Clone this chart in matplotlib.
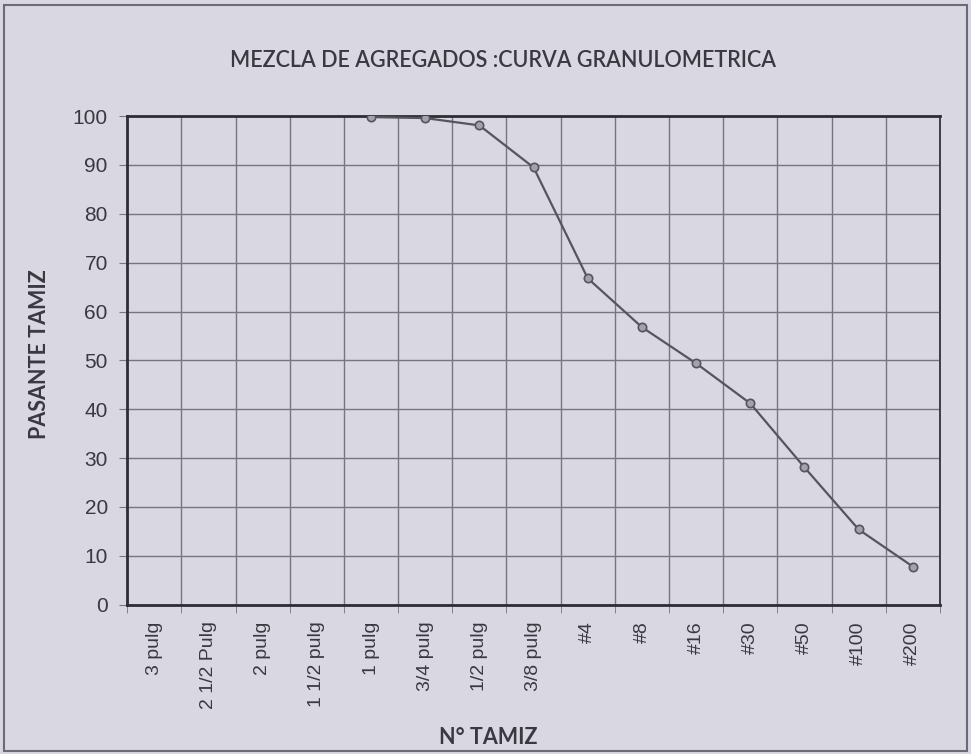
import matplotlib

matplotlib.use("Agg")
import matplotlib.pyplot as plt
from matplotlib.patches import Rectangle
import numpy as np

# sieve sizes and passing percentages
tamices = [
    "3 pulg", "2 1/2 Pulg", "2 pulg", "1 1/2 pulg", "1 pulg", "3/4 pulg",
    "1/2 pulg", "3/8 pulg", "#4", "#8", "#16", "#30", "#50", "#100", "#200",
]
pasante = [np.nan, np.nan, np.nan, np.nan, 99.8, 99.6, 98.1, 89.5,
           66.8, 56.8, 49.4, 41.2, 28.1, 15.4, 7.8]
y_ticks = list(range(0, 101, 10))

bg = "#d9d7e1"
ink = "#3a3840"
narrow = ["Liberation Sans Narrow", "Liberation Sans", "DejaVu Sans"]
bold = ["Lato", "DejaVu Sans"]

fig = plt.figure(figsize=(9.71, 7.54), dpi=100, facecolor=bg)
ax = fig.add_axes([0.131, 0.198, 0.837, 0.648])
ax.set_facecolor(bg)

x = np.arange(len(tamices))
ax.plot(x, pasante, color="#56545c", lw=1.6, marker="o", ms=6,
        mfc="#a3a1ab", mec="#56545c", mew=1.2, zorder=3)

ax.set_xlim(-0.5, len(tamices) - 0.5)
ax.set_ylim(0, 100)
ax.set_xticks(x)
ax.set_xticklabels(tamices, rotation=90, family=narrow, fontsize=14, color=ink)
ax.set_xticks(np.arange(-0.5, len(tamices)), minor=True)
ax.tick_params(axis="x", which="major", length=0, pad=12)
ax.tick_params(axis="x", which="minor", length=6, color="#77757d", direction="out")
ax.set_yticks(y_ticks)
ax.set_yticklabels([str(v) for v in y_ticks], family=narrow, fontsize=15, color=ink)
ax.tick_params(axis="y", length=6, color="#77757d", pad=8)

ax.grid(axis="x", which="minor", color="#77757d", lw=1.0)
ax.grid(axis="y", which="major", color="#77757d", lw=1.0)
ax.set_axisbelow(True)
for side in ["left", "bottom", "top"]:
    ax.spines[side].set_linewidth(2.0)
    ax.spines[side].set_color("#2e2c34")
ax.spines["right"].set_linewidth(1.4)
ax.spines["right"].set_color("#3e3c44")

fig.text(0.518, 0.92, "MEZCLA DE AGREGADOS :CURVA GRANULOMETRICA",
         ha="center", va="center", fontsize=15.5, family=bold, color=ink,
         fontweight="semibold")
fig.text(0.041, 0.53, "PASANTE TAMIZ", rotation=90, ha="center", va="center",
         fontsize=15.5, family=bold, fontweight="bold", color=ink)
fig.text(0.503, 0.022, "N° TAMIZ", ha="center", va="center",
         fontsize=15.5, family=bold, fontweight="bold", color=ink)

fig.patches.append(Rectangle((0.004, 0.004), 0.992, 0.99, transform=fig.transFigure,
                             fill=False, ec="#6c6a72", lw=1.5))

fig.savefig("out.png", dpi=100, facecolor=bg)
